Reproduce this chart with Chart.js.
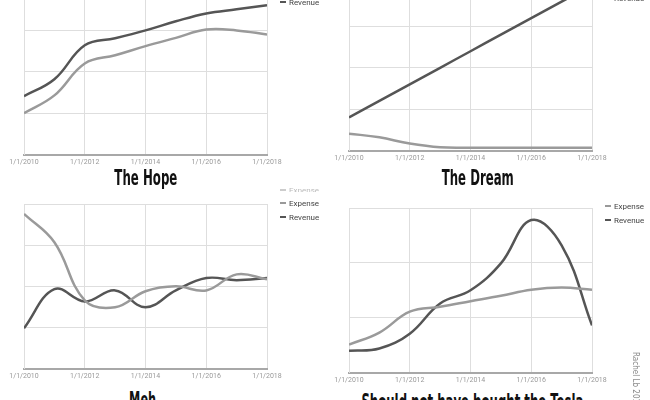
<!DOCTYPE html>
<html><head><meta charset="utf-8">
<script src="https://cdn.jsdelivr.net/npm/chart.js@4.4.1/dist/chart.umd.min.js"></script>
<style>
html,body{margin:0;padding:0;background:#fff;width:650px;height:400px;overflow:hidden;position:relative;font-family:Roboto,sans-serif}
.box{position:absolute}
.title{position:absolute;white-space:nowrap;font-family:"DejaVu Sans Condensed","Liberation Sans Narrow",sans-serif;font-weight:bold;font-size:22px;color:#111;line-height:1;transform-origin:center top}
.leg{position:absolute;font-size:8px;color:#444;white-space:nowrap;line-height:1}
.leg i{display:inline-block;width:6px;height:2px;vertical-align:middle;margin-right:3px;position:relative;top:-1px}
.sig{position:absolute;font-family:"DejaVu Sans Condensed",sans-serif;font-size:8px;color:#888;transform:rotate(90deg);transform-origin:left top;white-space:nowrap}
</style></head>
<body>
<div class="box" id="b1" style="left:0;top:-20px;width:325px;height:189px"><canvas id="c1"></canvas></div>
<div class="box" id="b2" style="left:325px;top:-24px;width:325px;height:189px"><canvas id="c2"></canvas></div>
<div class="box" id="b3" style="left:0;top:195px;width:325px;height:188px"><canvas id="c3"></canvas></div>
<div class="box" id="b4" style="left:325px;top:199px;width:325px;height:188px"><canvas id="c4"></canvas></div>

<div class="title" data-cx="146" data-w="63" style="top:167px">The Hope</div>
<div class="title" data-cx="478" data-w="72" style="top:167px">The Dream</div>
<div class="title" data-cx="143" data-w="27" style="top:389px">Meh</div>
<div class="title" data-cx="472" data-w="222" style="top:391px">Should not have bought the Tesla</div>

<div class="leg" style="left:280px;top:-1px"><i style="background:#555"></i>Revenue</div>
<div class="leg" style="left:605px;top:-5px"><i style="background:#555"></i>Revenue</div>
<div class="leg" style="left:280px;top:187px;color:#bbb;height:5px;overflow:hidden"><i style="background:#ccc"></i>Expense</div>
<div class="leg" style="left:280px;top:200px"><i style="background:#999"></i>Expense</div>
<div class="leg" style="left:280px;top:214px"><i style="background:#555"></i>Revenue</div>
<div class="leg" style="left:605px;top:203px"><i style="background:#999"></i>Expense</div>
<div class="leg" style="left:605px;top:217px"><i style="background:#555"></i>Revenue</div>
<div class="sig" style="left:640px;top:352px">Rachel Lb 2018</div>

<script>
const years = [2010, 2011, 2012, 2013, 2014, 2015, 2016, 2017, 2018];
const tickYears = [2010, 2012, 2014, 2016, 2018];
const tickLabels = ['1/1/2010', '1/1/2012', '1/1/2014', '1/1/2016', '1/1/2018'];
const seriesNames = ['Expense', 'Revenue'];

const hopeExpense  = [1.0, 1.43, 2.2, 2.4, 2.62, 2.82, 3.02, 3.0, 2.9];
const hopeRevenue  = [1.41, 1.82, 2.64, 2.81, 3.0, 3.22, 3.41, 3.51, 3.61];
const dreamExpense = [0.41, 0.32, 0.17, 0.08, 0.07, 0.07, 0.07, 0.07, 0.07];
const dreamRevenue = [0.8, 1.2, 1.6, 2.0, 2.4, 2.8, 3.2, 3.6, 4.0];
const mehExpense   = [3.76, 3.07, 1.66, 1.49, 1.88, 2.0, 1.9, 2.29, 2.17];
const mehRevenue   = [0.98, 1.93, 1.63, 1.9, 1.49, 1.9, 2.2, 2.15, 2.2];
const teslaExpense = [0.51, 0.73, 1.11, 1.2, 1.3, 1.4, 1.51, 1.55, 1.51];
const teslaRevenue = [0.4, 0.44, 0.71, 1.26, 1.5, 1.99, 2.78, 2.32, 0.86];

function pts(vals) { return years.map((y, i) => ({ x: y, y: vals[i] })); }

function make(id, expense, revenue, yMax, padTop) {
  new Chart(document.getElementById(id), {
    type: 'line',
    data: {
      datasets: [
        { label: seriesNames[0], data: pts(expense), borderColor: '#9a9a9a', borderWidth: 2.5, pointRadius: 0, tension: 0.4, fill: false },
        { label: seriesNames[1], data: pts(revenue), borderColor: '#555555', borderWidth: 2.5, pointRadius: 0, tension: 0.4, fill: false }
      ]
    },
    options: {
      responsive: true, maintainAspectRatio: false, animation: false,
      layout: { padding: { left: 24, right: 58, top: padTop, bottom: 0 } },
      plugins: { legend: { display: false }, tooltip: { enabled: false } },
      scales: {
        x: {
          type: 'linear', min: 2010, max: 2018,
          afterBuildTicks: ax => { ax.ticks = tickYears.map(v => ({ value: v })); },
          ticks: { callback: (v) => tickLabels[tickYears.indexOf(v)], color: '#999', font: { family: 'Roboto', size: 7 }, padding: 3, maxRotation: 0, autoSkip: false },
          grid: { color: '#dedede', drawTicks: false },
          border: { color: '#a8a8a8', width: 2 }
        },
        y: {
          min: 0, max: yMax,
          ticks: { display: false, stepSize: 1 },
          grid: { color: '#dedede', drawTicks: false },
          border: { color: '#dedede', width: 1 }
        }
      }
    }
  });
}

make('c1', hopeExpense, hopeRevenue, 4, 9);
make('c2', dreamExpense, dreamRevenue, 4, 9);
make('c3', mehExpense, mehRevenue, 4, 9);
make('c4', teslaExpense, teslaRevenue, 3, 9);

document.querySelectorAll('.title').forEach(el => {
  const w = el.getBoundingClientRect().width;
  const target = +el.dataset.w, cx = +el.dataset.cx;
  el.style.left = (cx - w / 2) + 'px';
  el.style.transform = 'scaleX(' + (target / w) + ')';
});
</script>
</body></html>
